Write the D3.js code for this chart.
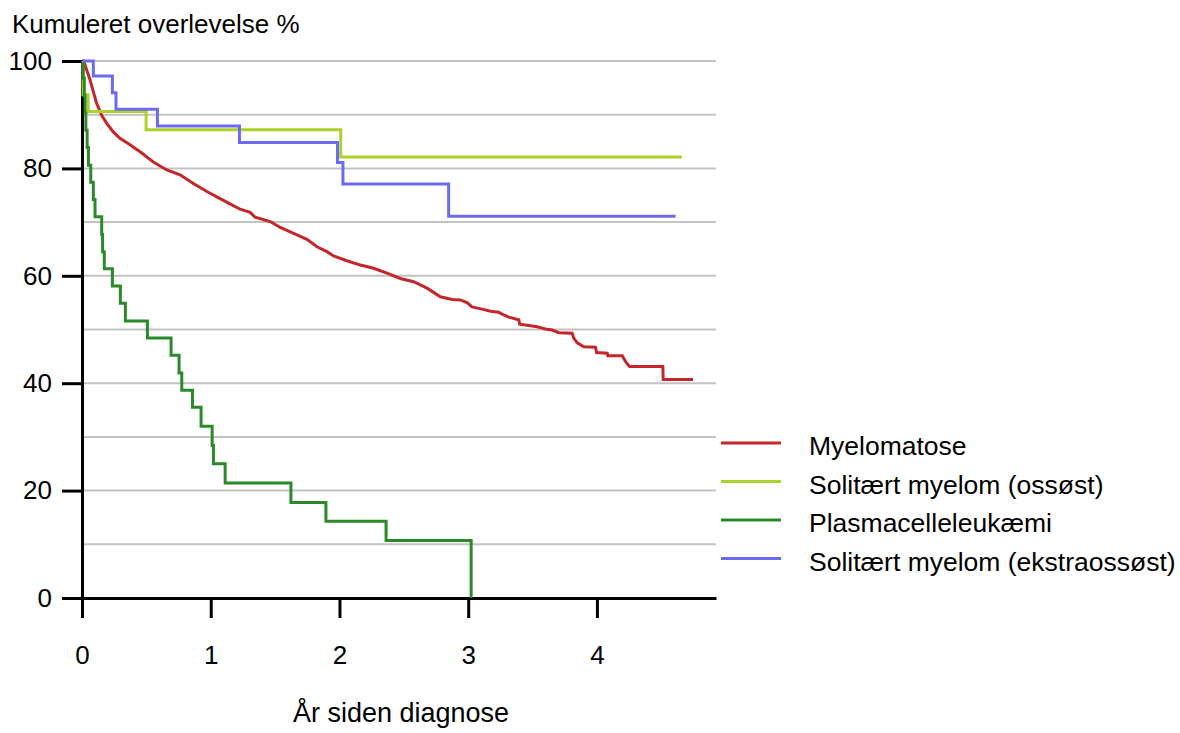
<!DOCTYPE html>
<html>
<head>
<meta charset="utf-8">
<script src="https://cdn.jsdelivr.net/npm/d3@7"></script>
<style>
  html, body { margin: 0; padding: 0; background: #fff; }
  svg { display: block; font-family: "Liberation Sans", Arial, sans-serif; }
</style>
</head>
<body>
<svg id="chart" width="1180" height="733"></svg>
<script>
// Kaplan-Meier curves: [years since diagnosis, cumulative survival %]
const myelomatose = [
  [0, 100], [0.016, 99.8], [0.037, 98.3], [0.062, 96.5], [0.088, 94.3], [0.114, 92.1],
  [0.153, 89.9], [0.192, 88.4], [0.243, 86.8], [0.295, 85.6], [0.373, 84.4], [0.451, 83.1],
  [0.554, 81.2], [0.659, 79.7], [0.762, 78.8], [0.865, 77.2], [0.970, 75.7], [1.047, 74.7],
  [1.164, 73.2], [1.229, 72.4], [1.306, 71.8], [1.345, 70.9], [1.462, 70.1], [1.540, 69.0],
  [1.670, 67.6], [1.747, 66.8], [1.825, 65.4], [1.903, 64.5], [1.954, 63.7], [2.058, 62.8],
  [2.162, 62.0], [2.265, 61.4], [2.369, 60.5], [2.473, 59.5], [2.576, 58.9], [2.680, 57.7],
  [2.784, 56.1], [2.875, 55.6], [2.939, 55.5], [2.991, 55.0], [3.030, 54.2], [3.108, 53.8],
  [3.173, 53.4], [3.237, 53.2], [3.276, 52.7], [3.315, 52.3], [3.393, 51.8], [3.400, 51.0],
  [3.458, 50.8], [3.536, 50.5], [3.600, 50.1], [3.652, 49.9], [3.704, 49.4], [3.808, 49.3],
  [3.820, 48.4], [3.847, 47.5], [3.898, 46.8], [3.989, 46.7], [3.997, 45.7], [4.080, 45.6],
  [4.085, 45.1], [4.197, 45.1], [4.223, 44.0], [4.253, 43.1], [4.512, 43.1], [4.515, 40.7],
  [4.746, 40.7]
];
const solitaertOssoest = [
  [0, 100], [0.008, 93.7], [0.048, 90.6], [0.498, 87.2], [2.01, 82.1], [4.66, 82.1]
];
const plasmacelleleukaemi = [
  [0, 100], [0.010, 96.8], [0.018, 93.5], [0.024, 90.3], [0.030, 87.1], [0.040, 83.9],
  [0.050, 80.6], [0.068, 77.4], [0.088, 74.2], [0.101, 71.0], [0.153, 67.7], [0.160, 64.5],
  [0.173, 61.3], [0.236, 58.1], [0.298, 54.9], [0.337, 51.6], [0.508, 48.4], [0.692, 45.2],
  [0.754, 41.9], [0.775, 38.7], [0.858, 35.5], [0.925, 32.0], [1.011, 28.4], [1.021, 25.0],
  [1.112, 21.4], [1.623, 17.8], [1.895, 14.3], [2.362, 10.7], [3.023, 0]
];
const solitaertEkstraossoest = [
  [0, 100], [0.088, 97.2], [0.236, 94.1], [0.264, 91.0], [0.586, 87.9], [1.223, 84.8],
  [1.985, 81.1], [2.027, 77.1], [2.848, 71.1], [4.611, 71.1]
];

const seriesNames = ["Myelomatose", "Solitært myelom (ossøst)", "Plasmacelleleukæmi", "Solitært myelom (ekstraossøst)"];
const seriesColors = ["#c4262b", "#aed02a", "#2a8a2a", "#6b6bf2"];
const yTicks = [0, 20, 40, 60, 80, 100];
const yGrid = [10, 20, 30, 40, 50, 60, 70, 80, 90, 100];
const xTicks = [0, 1, 2, 3, 4];

const svg = d3.select("#chart");
const FONT = 26;
const LINE_W = 3;

const x = d3.scaleLinear().domain([0, 4.925]).range([82, 716]);
const y = d3.scaleLinear().domain([0, 100]).range([598, 61]);

// horizontal gridlines
svg.append("g")
  .selectAll("line")
  .data(yGrid)
  .join("line")
  .attr("x1", x(0)).attr("x2", x.range()[1])
  .attr("y1", d => y(d)).attr("y2", d => y(d))
  .attr("stroke", "#c3c3c3")
  .attr("stroke-width", 2);

// survival curves
const lineLinear = d3.line().x(d => x(d[0])).y(d => y(d[1])).curve(d3.curveLinear);
const lineStep = d3.line().x(d => x(d[0])).y(d => y(d[1])).curve(d3.curveStepAfter);

const seriesData = [
  { data: myelomatose, gen: lineLinear },
  { data: solitaertOssoest, gen: lineStep },
  { data: plasmacelleleukaemi, gen: lineStep },
  { data: solitaertEkstraossoest, gen: lineStep }
];

// axes
const yAxis = d3.axisLeft(y).tickValues(yTicks).tickSize(20).tickSizeOuter(0).tickPadding(10);
const xAxis = d3.axisBottom(x).tickValues(xTicks).tickFormat(d3.format("d"))
  .tickSize(20).tickSizeOuter(0).tickPadding(28);

const gy = svg.append("g").attr("transform", `translate(${x(0)},0)`).call(yAxis);
const gx = svg.append("g").attr("transform", `translate(0,${y(0)})`).call(xAxis);

[gx, gy].forEach(g => {
  g.selectAll("path.domain").attr("stroke", "#000").attr("stroke-width", LINE_W);
  g.selectAll(".tick line").attr("stroke", "#000").attr("stroke-width", LINE_W);
  g.selectAll(".tick text").attr("fill", "#000").style("font-size", FONT + "px")
    .style("font-family", '"Liberation Sans", Arial, sans-serif');
});

const curves = svg.append("g");
seriesData.forEach((s, i) => {
  curves.append("path")
    .attr("d", s.gen(s.data))
    .attr("fill", "none")
    .attr("stroke", seriesColors[i])
    .attr("stroke-width", LINE_W)
    .attr("stroke-linejoin", "miter");
});

// axis titles
svg.append("text")
  .attr("x", 12).attr("y", 33)
  .style("font-size", FONT + "px")
  .text("Kumuleret overlevelse %");

svg.append("text")
  .attr("x", 401).attr("y", 722)
  .attr("text-anchor", "middle")
  .style("font-size", (FONT + 1) + "px")
  .text("År siden diagnose");

// legend
const legendY = d3.scalePoint().domain(seriesNames).range([443, 558.5]);
const legend = svg.append("g");
seriesNames.forEach((name, i) => {
  const ly = legendY(name);
  legend.append("line")
    .attr("x1", 721).attr("x2", 781)
    .attr("y1", ly).attr("y2", ly)
    .attr("stroke", seriesColors[i])
    .attr("stroke-width", LINE_W);
  legend.append("text")
    .attr("x", 809).attr("y", ly + 12)
    .style("font-size", (FONT + 0.5) + "px")
    .text(name);
});
</script>
</body>
</html>
